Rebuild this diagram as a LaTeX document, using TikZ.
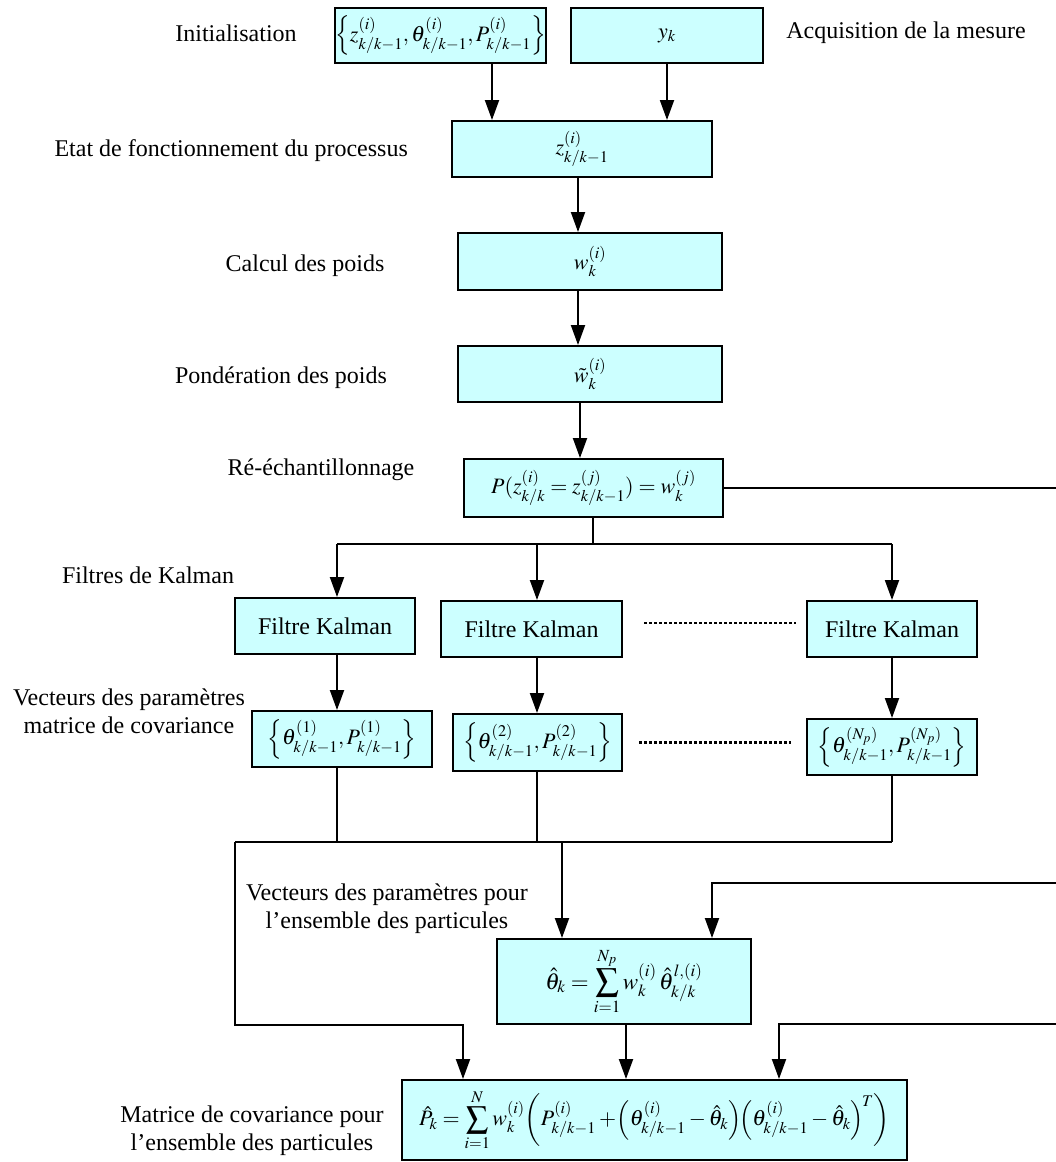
\documentclass[tikz,border=0pt]{standalone}
\usepackage{amsmath}
\usepackage{mathptmx}
\usepackage[no-math]{fontspec}
\setmainfont{Liberation Serif}
\usetikzlibrary{arrows.meta,calc}
\definecolor{boxfill}{HTML}{CCFFFF}
\begin{document}
\begin{tikzpicture}[x=1pt,y=-1pt,
  box/.style={draw=black, line width=2pt, fill=boxfill, inner sep=0pt, anchor=center, font=\fontsize{22}{26}\selectfont},
  arr/.style={line width=2pt, -{Triangle[width=14pt,length=20pt]}},
  ln/.style={line width=2pt},
  dots/.style={line width=2.2pt, dash pattern=on 3pt off 2pt},
  lbl/.style={font=\fontsize{24}{28}\selectfont, align=center, inner sep=0pt}
]
\useasboundingbox (0,0) rectangle (1056,1162);
% boxes
\node[box, minimum width=203pt, minimum height=55pt] (init) at (440.5,35.5) {$\Bigl\{z^{(i)}_{k/k-1},\theta^{(i)}_{k/k-1},P^{(i)}_{k/k-1}\Bigr\}$};
\node[box, minimum width=192pt, minimum height=55pt] (yk) at (667,35.5) {$y_k$};
\node[box, minimum width=260pt, minimum height=56pt] (z) at (582,149) {$z^{(i)}_{k/k-1}$};
\node[box, minimum width=264pt, minimum height=57pt] (w) at (590,261.5) {$w^{(i)}_k$};
\node[box, minimum width=264pt, minimum height=56pt] (wt) at (590,374) {$\tilde{w}^{(i)}_k$};
\node[box, minimum width=259pt, minimum height=58pt] (P) at (593.5,488) {$P(z^{(i)}_{k/k}=z^{(j)}_{k/k-1})=w^{(j)}_k$};
\node[box, minimum width=180pt, minimum height=56pt, font=\fontsize{24}{28}\selectfont] (K1) at (325,626) {Filtre Kalman};
\node[box, minimum width=181pt, minimum height=56pt, font=\fontsize{24}{28}\selectfont] (K2) at (531.5,629) {Filtre Kalman};
\node[box, minimum width=170pt, minimum height=56pt, font=\fontsize{24}{28}\selectfont] (K3) at (892,629) {Filtre Kalman};
\node[box, minimum width=180pt, minimum height=56pt] (T1) at (342,739) {$\Bigl\{\theta^{(1)}_{k/k-1},P^{(1)}_{k/k-1}\Bigr\}$};
\node[box, minimum width=169pt, minimum height=57pt] (T2) at (537.5,742.5) {$\Bigl\{\theta^{(2)}_{k/k-1},P^{(2)}_{k/k-1}\Bigr\}$};
\node[box, minimum width=170pt, minimum height=56pt] (T3) at (892,747) {$\Bigl\{\theta^{(N_p)}_{k/k-1},P^{(N_p)}_{k/k-1}\Bigr\}$};
\node[box, minimum width=254pt, minimum height=85pt, font=\fontsize{23}{27}\selectfont] (TH) at (624,981.5) {$\displaystyle\hat{\theta}_k=\sum_{i=1}^{N_p}w^{(i)}_k\,\hat{\theta}^{l,(i)}_{k/k}$};
\node[box, minimum width=505pt, minimum height=80pt] (PH) at (654.5,1120) {$\displaystyle\hat{P}_k=\sum_{i=1}^{N}w^{(i)}_k\!\left(P^{(i)}_{k/k-1}+\!\left(\theta^{(i)}_{k/k-1}-\hat{\theta}_k\right)\!\!\left(\theta^{(i)}_{k/k-1}-\hat{\theta}_k\right)^{\!T}\right)$};
% labels
\node[lbl] (lInit) at (236,33) {Initialisation};
\node[lbl] (lAcq) at (906,33) {Acquisition de la mesure};
\node[lbl, anchor=east] (lEtat) at (408,151) {Etat de fonctionnement du processus};
\node[lbl] (lCalc) at (305,266) {Calcul des poids};
\node[lbl] (lPond) at (281,378) {Pondération des poids};
\node[lbl] (lRe) at (321,470) {Ré-échantillonnage};
\node[lbl] (lFK) at (148,575) {Filtres de Kalman};
\node[lbl] (lVec) at (129,711) {Vecteurs des paramètres\\matrice de covariance};
\node[lbl] (lVecP) at (387,909) {Vecteurs des paramètres pour\\l’ensemble des particules};
\node[lbl] (lMat) at (252,1131) {Matrice de covariance pour\\l’ensemble des particules};
% column coordinates
\coordinate (c492) at (492,0);
\coordinate (c578) at (578,0);
\coordinate (c580) at (580,0);
\coordinate (c537) at (537,0);
\coordinate (c337) at (337,0);
\coordinate (c892) at (892,0);
\coordinate (c562) at (562,0);
\coordinate (c463) at (463,0);
\coordinate (c626) at (626,0);
\coordinate (c712) at (712,0);
\coordinate (c779) at (779,0);
\coordinate (edge) at (1056,0);
\coordinate (split) at (593,544);
\coordinate (sL) at (337,544);
\coordinate (sR) at (892,544);
\coordinate (mL) at (235,842);
\coordinate (mR) at (892,842);
\coordinate (fb1) at (1056,883);
\coordinate (fb2) at (1056,1024);
% connectors
\draw[arr] (c492 |- init.south) -- (c492 |- z.north);
\draw[arr] (yk.south) -- (yk.south |- z.north);
\draw[arr] (c578 |- z.south) -- (c578 |- w.north);
\draw[arr] (c578 |- w.south) -- (c578 |- wt.north);
\draw[arr] (c580 |- wt.south) -- (c580 |- P.north);
\draw[ln] (split |- P.south) -- (split);
\draw[ln] (sL) -- (sR);
\draw[arr] (sL) -- (sL |- K1.north);
\draw[arr] (c537 |- sL) -- (c537 |- K2.north);
\draw[arr] (sR) -- (sR |- K3.north);
\draw[arr] (c337 |- K1.south) -- (c337 |- T1.north);
\draw[arr] (c537 |- K2.south) -- (c537 |- T2.north);
\draw[arr] (c892 |- K3.south) -- (c892 |- T3.north);
\draw[ln] (c337 |- T1.south) -- (c337 |- mL);
\draw[ln] (c537 |- T2.south) -- (c537 |- mL);
\draw[ln] (c892 |- T3.south) -- (mR);
\draw[ln] (mL) -- (mR);
\draw[arr] (c562 |- mL) -- (c562 |- TH.north);
\draw[arr] (mL) |- (c463 |- TH.south) -- (c463 |- PH.north);
\draw[arr] (c626 |- TH.south) -- (c626 |- PH.north);
\draw[ln] (P.east) -- (P.east -| edge);
\draw[arr] (fb1) -| (c712 |- TH.north);
\draw[arr] (fb2) -| (c779 |- PH.north);
% dotted separators
\draw[dots] ([shift={(21,-6)}]K2.east) -- ([shift={(-10,-6)}]K3.west -| K3.west);
\draw[dots] ([xshift=16pt]T2.east) -- ([xshift=-15pt]T3.west |- T2.east);
\end{tikzpicture}
\end{document}
